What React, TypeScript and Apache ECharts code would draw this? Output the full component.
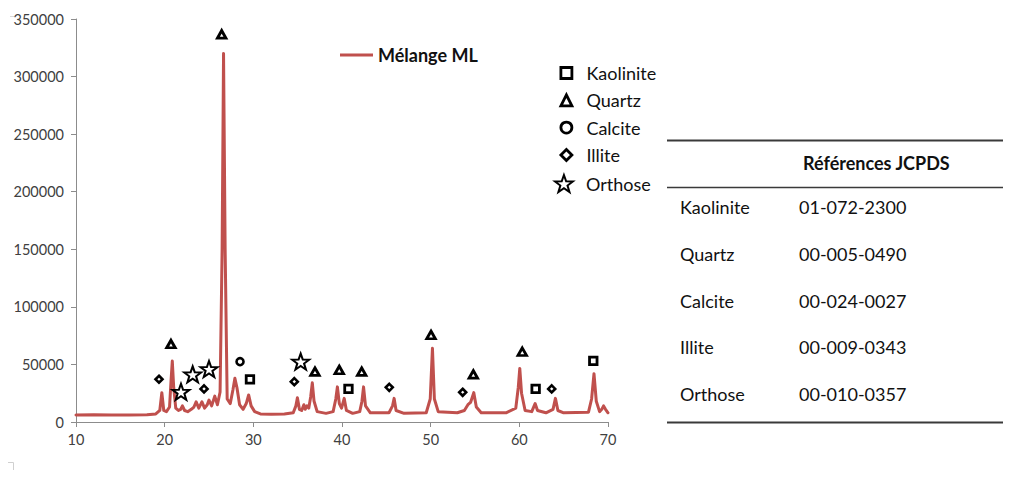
import React, { useEffect, useRef } from "react";
import * as echarts from "echarts";

// 2θ positions and intensities of the diffractogram
const twoTheta = [
  10.0, 12.0, 14.0, 16.0, 18.0, 19.0, 19.45, 19.68, 19.9, 20.2, 20.55, 20.72, 20.86, 21.02, 21.25,
  21.55, 21.8, 22.0, 22.25, 22.6, 23.0, 23.3, 23.55, 23.85, 24.2, 24.5, 24.8, 25.0, 25.3, 25.65,
  25.95, 26.25, 26.48, 26.64, 26.82, 27.05, 27.4, 27.7, 27.92, 28.15, 28.45, 28.85, 29.2, 29.47,
  29.75, 30.15, 30.8, 32.0, 33.5, 34.5, 34.8, 34.97, 35.2, 35.45, 35.7, 35.85, 36.05, 36.25,
  36.47, 36.65, 36.85, 37.2, 38.2, 39.0, 39.3, 39.48, 39.7, 39.95, 40.25, 40.5, 41.2, 42.0,
  42.25, 42.43, 42.65, 43.2, 45.3, 45.7, 45.88, 46.1, 47.0, 49.5, 49.95, 50.2, 50.42, 50.85,
  53.0, 53.8, 54.2, 54.5, 54.86, 55.15, 55.7, 58.5, 59.6, 59.88, 60.05, 60.25, 60.65, 61.4,
  61.78, 62.05, 63.0, 63.8, 64.07, 64.35, 65.0, 67.8, 68.15, 68.42, 68.68, 69.05, 69.3, 69.5,
  69.72, 70.0,
];
const intensity = [
  6000, 6200, 6000, 6000, 6200, 7000, 10000, 25500, 10000, 9000, 13000, 36000, 53000, 30000, 12000,
  10000, 11000, 14000, 10000, 9000, 11000, 13000, 17500, 12000, 17500, 12000, 15000, 19000, 14000, 22500,
  15000, 26000, 150000, 320000, 150000, 20000, 16000, 28000, 38000, 30000, 15000, 11000, 16000, 23500,
  14000, 9000, 7000, 6800, 7000, 8000, 14000, 21000, 11000, 10000, 15000, 11000, 14000, 12000,
  22000, 34000, 18000, 9000, 7500, 9000, 20000, 30500, 16000, 12000, 20500, 10000, 7500, 9000,
  18000, 30500, 14000, 8000, 8000, 14000, 20500, 10000, 7500, 8000, 20000, 64000, 20000, 9000,
  8000, 10000, 15000, 17000, 25500, 13000, 8000, 8000, 12000, 30000, 46500, 25000, 10000, 9000,
  16000, 10000, 8000, 11000, 20500, 10000, 8000, 8500, 20000, 42000, 18000, 9000, 11000, 14000,
  11000, 8000,
];

// Phase markers (x = 2θ, y = intensity where the symbol sits)
const kaoliniteX = [29.62, 40.73, 61.84, 68.34];
const kaoliniteY = [37100, 28700, 28700, 53000];
const quartzX = [20.71, 26.43, 36.95, 39.69, 42.22, 50.04, 54.81, 60.33];
const quartzY = [67700, 336700, 43700, 45200, 43700, 75600, 41400, 61000];
const calciteX = [28.5];
const calciteY = [52400];
const illiteX = [19.36, 24.44, 34.62, 45.33, 53.61, 63.65];
const illiteY = [37100, 28700, 35000, 30100, 25800, 28700];
const orthoseX = [21.84, 23.16, 25.0, 35.34];
const orthoseY = [26300, 41400, 46000, 52400];

// Axis ticks
const xMin = 10, xMax = 70, xStep = 10;
const yMin = 0, yMax = 350000, yStep = 50000;

// Table of references
const tableHeader = "Références JCPDS";
const minerals = ["Kaolinite", "Quartz", "Calcite", "Illite", "Orthose"];
const jcpdsCodes = ["01-072-2300", "00-005-0490", "00-024-0027", "00-009-0343", "00-010-0357"];

const seriesName = "Mélange ML";

const STAR =
  "path://M50 0L61.76 33.82L97.55 34.55L69.02 56.18L79.39 90.45L50 70L20.61 90.45L30.98 56.18L2.45 34.55L38.24 33.82Z";

const FONT = "Lato, 'Open Sans', sans-serif";
const zip = (xs: number[], ys: number[]) => xs.map((x, i) => [x, ys[i]]);

export default function App() {
  const ref = useRef<HTMLDivElement>(null);
  useEffect(() => {
    if (!ref.current) return;
    const chart = echarts.init(ref.current, null, { renderer: "svg" });
    const markerStyle = (bw: number) => ({
      color: "#ffffff",
      borderColor: "#000000",
      borderWidth: bw,
      opacity: 1,
    });
    const tableLeft = 667;
    const tableRight = 1003;
    const rowY0 = 207;
    const rowStep = 46.8;
    const graphics: any[] = [
      { type: "line", shape: { x1: tableLeft, y1: 140.5, x2: tableRight, y2: 140.5 }, style: { stroke: "#3a3a3a", lineWidth: 2 } },
      { type: "line", shape: { x1: tableLeft, y1: 187.5, x2: tableRight, y2: 187.5 }, style: { stroke: "#3a3a3a", lineWidth: 1.6 } },
      { type: "line", shape: { x1: tableLeft, y1: 422.5, x2: tableRight, y2: 422.5 }, style: { stroke: "#3a3a3a", lineWidth: 2 } },
      {
        type: "text",
        x: 803,
        y: 163,
        style: { text: tableHeader, font: `bold 18px ${FONT}`, fill: "#111", verticalAlign: "middle" },
      },
      // faint crop marks
      { type: "polyline", shape: { points: [[8, 462.5], [13.5, 462.5], [13.5, 470]] }, style: { stroke: "#d0d0d0", lineWidth: 1, fill: null } },
      { type: "line", shape: { x1: 10, y1: 16.5, x2: 15, y2: 16.5 }, style: { stroke: "#d8d8d8", lineWidth: 1 } },
    ];
    minerals.forEach((m, i) => {
      graphics.push({
        type: "text",
        x: 680,
        y: rowY0 + i * rowStep,
        style: { text: m, font: `18px ${FONT}`, fill: "#111", verticalAlign: "middle" },
      });
      graphics.push({
        type: "text",
        x: 799,
        y: rowY0 + i * rowStep,
        style: { text: jcpdsCodes[i], font: `18px ${FONT}`, fill: "#111", verticalAlign: "middle" },
      });
    });

    const legendText = { fontSize: 18, color: "#111", lineHeight: 18, fontFamily: FONT };

    chart.setOption({
      animation: false,
      textStyle: { fontFamily: FONT },
      grid: { left: 76, right: 406, top: 19, bottom: 59 },
      xAxis: {
        type: "value",
        min: xMin,
        max: xMax,
        interval: xStep,
        splitLine: { show: false },
        axisLine: { onZero: false, lineStyle: { color: "#8c8c8c", width: 1 } },
        axisTick: { show: true, length: 5, lineStyle: { color: "#8c8c8c" } },
        axisLabel: { color: "#404040", fontSize: 14.5, margin: 10, fontFamily: FONT },
      },
      yAxis: {
        type: "value",
        min: yMin,
        max: yMax,
        interval: yStep,
        splitLine: { show: false },
        axisLine: { show: true, lineStyle: { color: "#8c8c8c", width: 1 } },
        axisTick: { show: true, length: 5, lineStyle: { color: "#8c8c8c" } },
        axisLabel: {
          color: "#404040",
          fontSize: 14.5,
          margin: 12,
          fontFamily: FONT,
          formatter: (v: number) => String(v),
        },
      },
      legend: [
        {
          data: [{ name: seriesName, icon: "rect" }],
          left: 340,
          top: 46,
          padding: 0,
          itemWidth: 33,
          itemHeight: 3,
          textStyle: { ...legendText, fontWeight: "bold" },
          selectedMode: false,
        },
        {
          data: ["Kaolinite", "Quartz", "Calcite", "Illite"],
          orient: "vertical",
          left: 559.5,
          top: 64,
          padding: 0,
          itemWidth: 11,
          itemHeight: 11,
          itemGap: 9.3,
          itemStyle: { color: "#ffffff", borderColor: "#000000", borderWidth: 2.8 },
          textStyle: { ...legendText, padding: [0, 0, 0, 9.5] },
          selectedMode: false,
        },
        {
          data: ["Orthose"],
          orient: "vertical",
          left: 554,
          top: 174,
          padding: 0,
          itemWidth: 18,
          itemHeight: 17,
          itemStyle: { color: "#ffffff", borderColor: "#000000", borderWidth: 2 },
          textStyle: { ...legendText, padding: [0, 0, 0, 8] },
          selectedMode: false,
        },
      ],
      graphic: graphics,
      series: [
        {
          name: seriesName,
          type: "line",
          data: zip(twoTheta, intensity),
          symbol: "none",
          smooth: false,
          color: "#C0504D",
          lineStyle: { color: "#C0504D", width: 3, join: "round", cap: "round" },
          z: 2,
        },
        {
          name: "Kaolinite",
          type: "scatter",
          data: zip(kaoliniteX, kaoliniteY),
          symbol: "rect",
          symbolSize: 7.5,
          itemStyle: markerStyle(2.8),
          z: 5,
        },
        {
          name: "Quartz",
          type: "scatter",
          data: zip(quartzX, quartzY),
          symbol: "triangle",
          symbolSize: [8.5, 7.5],
          itemStyle: markerStyle(2.8),
          z: 5,
        },
        {
          name: "Calcite",
          type: "scatter",
          data: zip(calciteX, calciteY),
          symbol: "circle",
          symbolSize: 7,
          itemStyle: markerStyle(2.6),
          z: 5,
        },
        {
          name: "Illite",
          type: "scatter",
          data: zip(illiteX, illiteY),
          symbol: "diamond",
          symbolSize: 7,
          itemStyle: markerStyle(2.6),
          z: 5,
        },
        {
          name: "Orthose",
          type: "scatter",
          data: zip(orthoseX, orthoseY),
          symbol: STAR,
          symbolSize: [17, 16],
          itemStyle: markerStyle(2),
          z: 5,
        },
      ],
    });
    return () => chart.dispose();
  }, []);
  return (
    <div
      ref={ref}
      style={{ position: "absolute", left: 0, top: 0, width: 1014, height: 481, background: "#ffffff" }}
    />
  );
}
